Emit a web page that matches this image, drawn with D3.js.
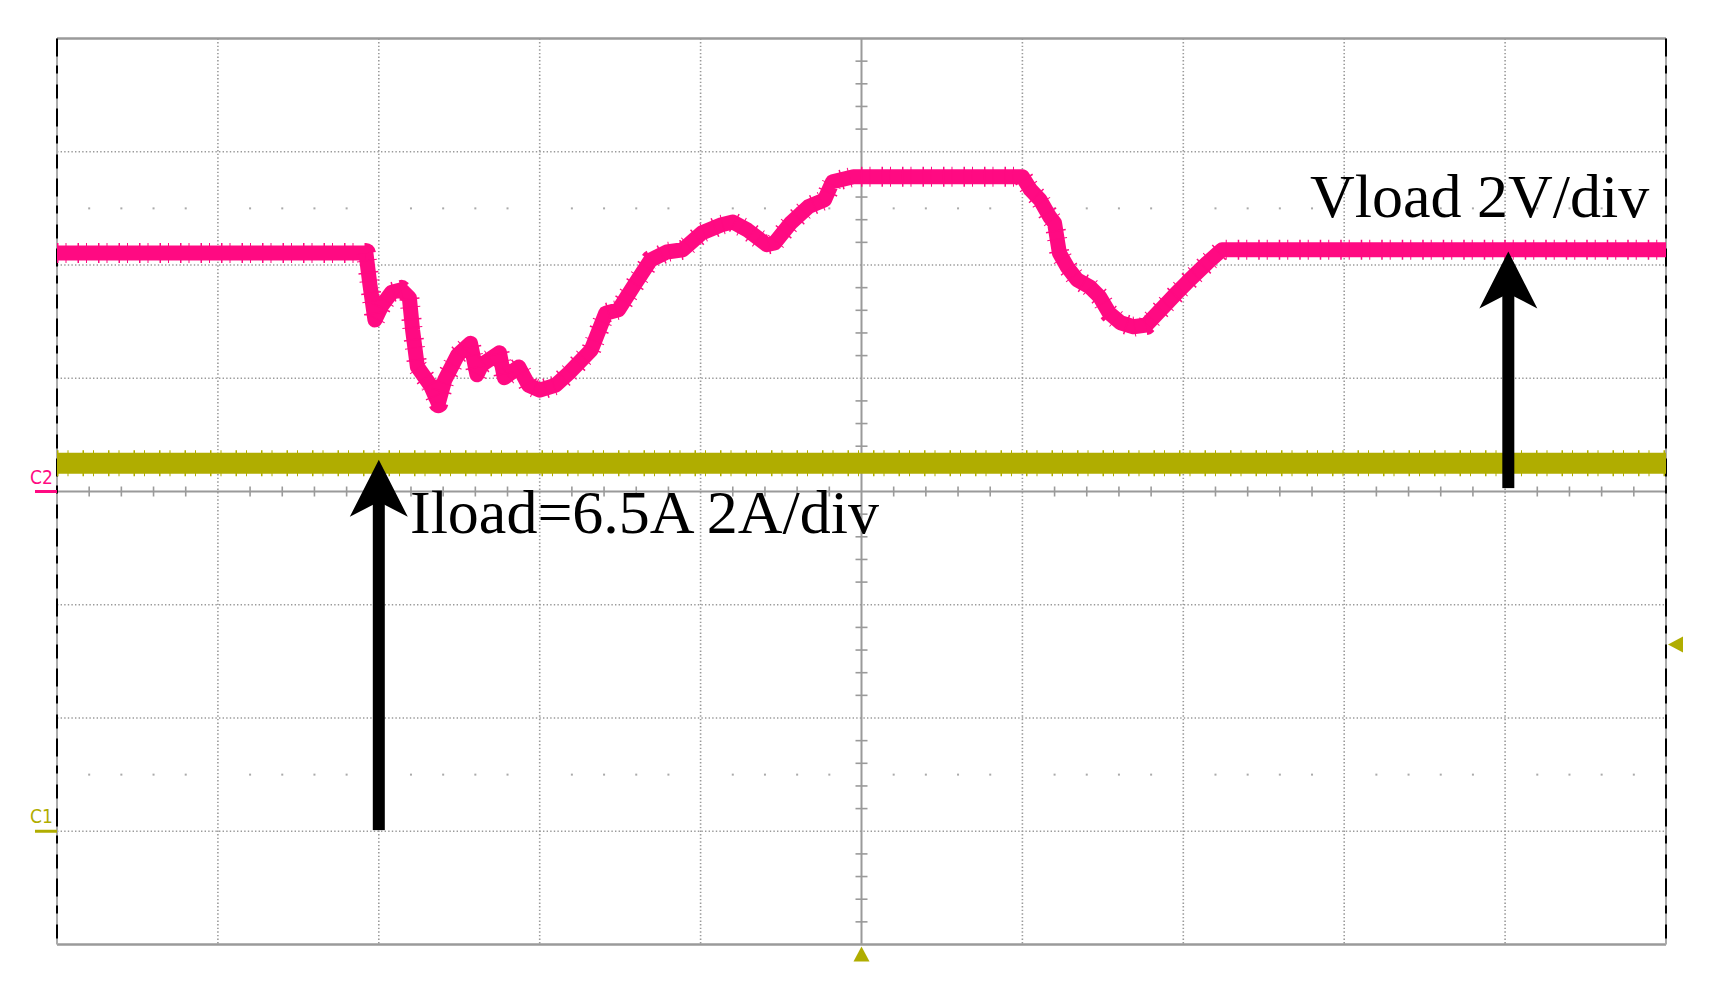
<!DOCTYPE html>
<html lang="en">
<head>
<meta charset="UTF-8">
<script src="https://cdn.jsdelivr.net/npm/d3@7/dist/d3.min.js"></script>
<title>Vload / Iload</title>
<style>
  body { margin: 0; background: #fff; }
</style>
</head>
<body>
<script>
// time in divisions (0..10), Vload in volts (2 V/div, C2 ground at centre)
var vTime = [0, 1.92, 1.945, 1.976, 2.02, 2.08, 2.14, 2.19, 2.21, 2.24, 2.32, 2.37, 2.41, 2.49, 2.57,
             2.61, 2.64, 2.75, 2.78, 2.87, 2.93, 3.00, 3.10, 3.18, 3.32, 3.41, 3.49, 3.58, 3.69, 3.79,
             3.89, 4.01, 4.13, 4.20, 4.29, 4.41, 4.46, 4.56, 4.67, 4.77, 4.82, 4.95, 6.00, 6.05, 6.11,
             6.17, 6.20, 6.23, 6.28, 6.34, 6.42, 6.48, 6.54, 6.61, 6.69, 6.77, 6.86, 6.96, 7.04, 7.15,
             7.24, 7.31, 10];
var vLoad = [4.21, 4.21, 3.65, 3.03, 3.29, 3.52, 3.56, 3.42, 2.85, 2.20, 1.88, 1.56, 1.97, 2.41, 2.62,
             2.06, 2.24, 2.45, 2.01, 2.20, 1.88, 1.79, 1.88, 2.09, 2.50, 3.15, 3.21, 3.61, 4.09, 4.23,
             4.27, 4.57, 4.71, 4.76, 4.62, 4.36, 4.39, 4.74, 5.03, 5.15, 5.47, 5.56, 5.56, 5.33, 5.15,
             4.85, 4.74, 4.21, 3.96, 3.74, 3.61, 3.44, 3.15, 2.98, 2.91, 2.94, 3.21, 3.51, 3.74, 4.04,
             4.27, 4.27, 4.27];
// Iload in amps (2 A/div, C1 ground 3 div below centre)
var iTime = [0, 10];
var iLoad = [6.5, 6.5];

var vScale = 2, vOffset = 0;
var iScale = 2, iOffset = -3;

var width = 1717, height = 997;
var x = d3.scaleLinear().domain([0, 10]).range([57, 1666]);
var y = d3.scaleLinear().domain([-4, 4]).range([944.5, 38.5]);

var grey = "#9a9a9a", pink = "#ff0a82", olive = "#b0ad00";

var svg = d3.select("body").append("svg")
    .attr("width", width).attr("height", height);

svg.append("rect").attr("width", width).attr("height", height).attr("fill", "#fff");

// dotted grid
var g = svg.append("g");
g.selectAll(".vg").data([1, 2, 3, 4, 6, 7, 8, 9]).enter().append("line")
    .attr("x1", function(d){ return x(d); }).attr("x2", function(d){ return x(d); })
    .attr("y1", y(4)).attr("y2", y(-4))
    .attr("stroke", grey).attr("stroke-width", 1.6).attr("stroke-dasharray", "1.4,2.2");
g.selectAll(".hg").data([-3, -2, -1, 1, 2, 3]).enter().append("line")
    .attr("x1", x(0)).attr("x2", x(10))
    .attr("y1", function(d){ return y(d); }).attr("y2", function(d){ return y(d); })
    .attr("stroke", grey).attr("stroke-width", 1.6).attr("stroke-dasharray", "1.4,2.2");

// minor dot rows at +/-2.5 div
var minorX = d3.range(1, 50).map(function(i){ return i / 5; }).filter(function(d){ return Math.round(d * 5) % 5 != 0; });
[2.5, -2.5].forEach(function(r){
    g.selectAll(null).data(minorX).enter().append("rect")
        .attr("x", function(d){ return x(d) - 1; }).attr("y", y(r) - 1)
        .attr("width", 2).attr("height", 2).attr("fill", "#aaa");
});

// centre axes with minor ticks
g.append("line").attr("x1", x(0)).attr("x2", x(10)).attr("y1", y(0)).attr("y2", y(0))
    .attr("stroke", grey).attr("stroke-width", 2);
g.append("line").attr("x1", x(5)).attr("x2", x(5)).attr("y1", y(4)).attr("y2", y(-4))
    .attr("stroke", grey).attr("stroke-width", 2);
g.selectAll(".tx").data(minorX).enter().append("line")
    .attr("x1", function(d){ return x(d); }).attr("x2", function(d){ return x(d); })
    .attr("y1", y(0) - 5).attr("y2", y(0) + 5)
    .attr("stroke", grey).attr("stroke-width", 1.6);
var minorY = d3.range(-19, 20).map(function(i){ return i / 5; }).filter(function(d){ return Math.round(d * 5) % 5 != 0; });
g.selectAll(".ty").data(minorY).enter().append("line")
    .attr("x1", x(5) - 6).attr("x2", x(5) + 6)
    .attr("y1", function(d){ return y(d); }).attr("y2", function(d){ return y(d); })
    .attr("stroke", grey).attr("stroke-width", 1.6);

// frame
g.append("line").attr("x1", x(0)).attr("x2", x(10)).attr("y1", y(4)).attr("y2", y(4))
    .attr("stroke", grey).attr("stroke-width", 2.5);
g.append("line").attr("x1", x(0)).attr("x2", x(10)).attr("y1", y(-4)).attr("y2", y(-4))
    .attr("stroke", grey).attr("stroke-width", 2.5);
[0, 10].forEach(function(d){
    g.append("line").attr("x1", x(d)).attr("x2", x(d)).attr("y1", y(4)).attr("y2", y(-4))
        .attr("stroke", "#aaa").attr("stroke-width", 2);
    g.append("line").attr("x1", x(d)).attr("x2", x(d)).attr("y1", y(4)).attr("y2", y(-4))
        .attr("stroke", "#000").attr("stroke-width", 2)
        .attr("stroke-dasharray", "18,9,8,11,14,10");
});

// traces
var vLine = d3.line()
    .x(function(d, i){ return x(vTime[i]); })
    .y(function(d){ return y(d / vScale + vOffset); });
var iLine = d3.line()
    .x(function(d, i){ return x(iTime[i]); })
    .y(function(d){ return y(d / iScale + iOffset); });

svg.append("path").attr("d", iLine(iLoad)).attr("fill", "none")
    .attr("stroke", olive).attr("stroke-width", 21);
svg.append("path").attr("d", iLine(iLoad)).attr("fill", "none")
    .attr("stroke", olive).attr("stroke-width", 26).attr("stroke-dasharray", "1.5,9,1,14");

svg.append("path").attr("d", vLine(vLoad)).attr("fill", "none")
    .attr("stroke", pink).attr("stroke-width", 15).attr("stroke-linejoin", "round");
svg.append("path").attr("d", vLine(vLoad)).attr("fill", "none")
    .attr("stroke", pink).attr("stroke-width", 20).attr("stroke-linejoin", "round")
    .attr("stroke-dasharray", "1.5,7,1,11");

// channel markers
var smallFont = "Liberation Sans Narrow, DejaVu Sans Condensed, sans-serif";
svg.append("line").attr("x1", 35).attr("x2", x(0)).attr("y1", y(0)).attr("y2", y(0))
    .attr("stroke", pink).attr("stroke-width", 3);
svg.append("text").attr("x", 30).attr("y", y(0) - 8).text("C2")
    .attr("fill", pink).attr("font-family", smallFont).attr("font-size", 19);
svg.append("line").attr("x1", 35).attr("x2", x(0)).attr("y1", y(iOffset)).attr("y2", y(iOffset))
    .attr("stroke", olive).attr("stroke-width", 3);
svg.append("text").attr("x", 30).attr("y", y(iOffset) - 8).text("C1")
    .attr("fill", olive).attr("font-family", smallFont).attr("font-size", 19);

// trigger markers
svg.append("path")
    .attr("d", "M" + x(5) + "," + (y(-4) + 2) + "l8,15h-16z").attr("fill", olive);
svg.append("path")
    .attr("d", "M" + (x(10) + 2) + "," + y(-1.35) + "l15,-8v16z").attr("fill", olive);

// arrows
function arrow(t, top, bottom){
    var cx = x(t), yt = y(top), yb = y(bottom);
    svg.append("rect").attr("x", cx - 6).attr("y", yt + 40).attr("width", 12).attr("height", yb - yt - 40)
        .attr("fill", "#000");
    svg.append("path")
        .attr("d", "M" + cx + "," + yt + "L" + (cx + 29) + "," + (yt + 57) + "L" + cx + "," + (yt + 42)
            + "L" + (cx - 29) + "," + (yt + 57) + "Z")
        .attr("fill", "#000");
}
arrow(2.0, 0.28, -2.99);
arrow(9.02, 2.12, 0.03);

// labels
svg.append("text").attr("x", 1310).attr("y", 217).text("Vload 2V/div")
    .attr("font-family", "Liberation Serif, Times New Roman, serif").attr("font-size", 62)
    .attr("fill", "#000");
svg.append("text").attr("x", 410).attr("y", 533).text("Iload=6.5A 2A/div")
    .attr("font-family", "Liberation Serif, Times New Roman, serif").attr("font-size", 62)
    .attr("fill", "#000");
</script>
</body>
</html>
